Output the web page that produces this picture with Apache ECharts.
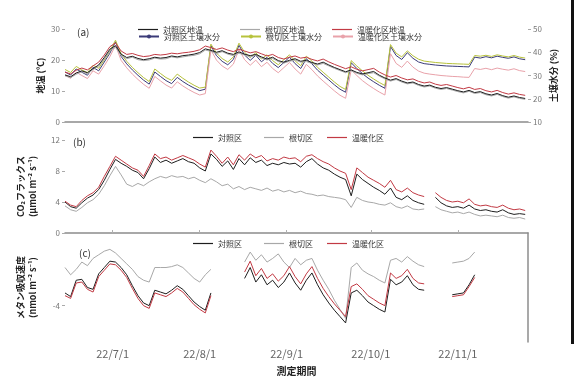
<!DOCTYPE html>
<html>
<head>
<meta charset="utf-8">
<script src="https://cdn.jsdelivr.net/npm/echarts@6/dist/echarts.min.js"></script>
<style>
  html, body { margin: 0; padding: 0; background: #fff; }
  #chart { width: 582px; height: 378px; }
</style>
</head>
<body>
<div id="chart"></div>
<script>
// Sampling dates: every 2 days from 2022-06-14 to 2022-11-25 (83 points)
const dates = [];
for (let i = 0; i < 83; i++) {
  const d = new Date(Date.UTC(2022, 5, 14 + 2 * i));
  dates.push(d.toISOString().slice(0, 10));
}

// (a) soil temperature, °C  (rows: Jun / Jul / Aug / Sep / Oct / Nov)
const tempControl = [
  15.2,14.6,15.8,16.5,15.9,17.2,18.4,20.8,23.5,
  24.6,21.9,20.8,21.2,20.5,20.1,20.4,20.9,20.6,20.8,21.3,21.0,21.4,21.6,21.9,
  22.4,23.6,23.1,22.5,23.0,22.2,21.8,22.6,21.9,21.4,21.8,21.0,20.3,20.9,19.8,19.3,
  19.9,20.4,19.6,19.9,19.2,18.7,19.3,18.4,17.6,16.9,16.2,16.8,16.0,15.5,15.9,
  16.3,15.1,14.2,13.5,14.0,13.2,12.6,12.9,12.1,11.6,11.9,11.2,10.8,11.1,10.6,
  10.1,9.7,10.2,9.5,9.8,9.1,8.7,9.2,8.5,8.0,8.4,7.9,7.6
];
const tempRootCut = [
  14.9,14.3,15.4,16.2,15.5,16.9,18.0,20.3,23.0,
  24.1,21.5,20.4,20.9,20.1,19.8,20.0,20.6,20.3,20.4,21.0,20.7,21.0,21.3,21.5,
  22.0,23.2,22.8,22.1,22.7,21.9,21.4,22.2,21.6,21.0,21.5,20.7,20.0,20.5,19.5,19.0,
  19.6,20.0,19.3,19.5,18.9,18.4,18.9,18.1,17.3,16.6,15.9,16.5,15.7,15.2,15.6,
  15.9,14.8,13.9,13.2,13.7,12.9,12.3,12.6,11.8,11.3,11.6,10.9,10.5,10.8,10.3,
  9.8,9.4,9.9,9.2,9.5,8.8,8.4,8.9,8.2,7.7,8.1,7.6,7.3
];
const tempWarming = [
  16.1,15.5,16.7,17.4,16.8,18.1,19.3,21.6,24.3,
  25.5,22.9,21.8,22.1,21.5,21.1,21.3,21.8,21.6,21.8,22.2,22.0,22.3,22.5,22.8,
  23.3,24.5,24.0,23.4,23.9,23.2,22.7,23.5,22.9,22.3,22.7,22.0,21.3,21.8,20.8,20.3,
  20.9,21.3,20.6,20.9,20.2,19.7,20.3,19.4,18.6,17.9,17.2,17.8,17.0,16.5,16.9,
  17.3,16.1,15.2,14.5,15.0,14.2,13.6,13.9,13.1,12.6,12.9,12.2,11.8,12.1,11.6,
  11.1,10.7,11.2,10.5,10.8,10.1,9.7,10.2,9.5,9.0,9.4,8.9,8.6
];

// (a) soil moisture, %
const moistControl = [
  31.5,30.2,32.8,31.4,30.1,33.5,32.0,35.8,39.6,
  44.5,38.2,35.0,32.4,30.1,28.0,26.3,31.5,29.6,27.8,26.5,29.2,27.4,25.9,24.6,
  23.5,24.1,42.8,38.5,36.1,34.6,36.9,43.0,38.8,36.5,38.7,35.9,37.8,35.2,33.4,35.6,
  37.9,35.1,33.0,37.2,35.0,32.3,30.2,28.1,26.0,24.1,22.8,35.5,33.0,30.8,28.9,
  27.3,25.8,24.5,42.5,38.6,36.9,39.8,37.4,35.8,35.1,34.8,34.5,34.3,34.1,34.0,
  33.9,33.8,33.7,37.9,37.5,38.1,37.6,38.3,37.8,37.4,38.0,37.2,36.8
];
const moistRootCut = [
  32.6,31.3,33.9,32.4,31.2,34.4,33.1,36.7,40.5,
  45.2,39.3,36.1,33.5,31.2,29.1,27.4,32.8,30.9,29.1,27.9,30.6,28.8,27.2,25.8,
  24.6,25.0,43.5,39.6,37.3,35.8,38.0,43.9,40.0,37.7,39.8,37.1,38.9,36.4,34.6,36.8,
  38.9,36.3,34.2,38.3,36.2,33.5,31.4,29.3,27.2,25.3,24.0,36.4,34.1,32.0,30.1,
  28.5,27.0,25.7,43.3,39.6,38.0,40.6,38.5,37.0,36.2,35.9,35.6,35.4,35.2,35.1,
  35.0,34.9,34.8,38.6,38.3,38.7,38.2,38.9,38.4,38.0,38.6,37.9,37.5
];
const moistWarming = [
  30.1,28.8,31.4,30.0,28.7,32.0,30.6,34.2,38.1,
  43.0,36.5,33.3,30.6,28.3,26.2,24.5,29.6,27.7,25.9,24.6,27.3,25.5,24.0,22.7,
  21.6,22.2,41.0,36.6,34.1,32.6,34.9,41.2,36.8,34.4,36.6,33.8,35.7,33.0,31.2,33.4,
  35.6,32.8,30.6,34.8,32.5,29.8,27.6,25.5,23.4,21.5,20.2,32.4,30.0,27.8,26.0,
  24.4,22.9,21.6,39.4,35.2,33.5,36.2,33.6,31.9,31.0,30.6,30.3,30.0,29.8,29.6,
  29.5,29.3,29.2,33.0,32.6,33.1,32.5,33.2,32.7,32.3,32.9,32.1,31.7
];

// (b) CO2 flux, μmol m-2 s-1
const co2Control = [
  4.0,3.4,3.2,3.9,4.5,4.9,5.6,6.8,8.2,
  9.5,9.0,8.6,8.1,7.8,7.0,8.3,9.8,9.1,9.4,9.0,9.3,9.6,9.2,9.0,
  8.4,8.0,10.2,9.5,8.6,9.3,8.2,9.6,8.8,9.7,9.1,9.4,8.7,9.0,8.8,9.1,
  8.9,9.0,8.5,9.2,9.6,8.9,8.4,8.1,7.6,7.2,6.9,4.8,7.6,6.9,6.4,
  5.9,5.5,5.0,5.8,4.6,4.3,4.8,4.2,3.9,3.7,null,4.6,3.9,3.5,3.3,
  3.4,3.2,3.6,3.1,2.9,3.0,2.8,2.7,3.0,2.6,2.4,2.5,2.4
];
const co2RootCut = [
  3.5,3.0,2.8,3.3,3.9,4.3,5.0,6.1,7.4,
  8.6,7.5,6.3,6.0,6.4,6.1,6.6,7.0,7.3,7.1,7.4,7.2,7.3,7.0,7.2,
  6.8,6.5,7.0,6.6,6.1,6.3,5.7,6.0,5.6,5.9,5.7,5.5,5.8,5.4,5.6,5.3,
  5.5,5.2,5.4,5.1,5.0,4.8,4.9,4.7,4.6,4.5,4.3,3.3,4.6,4.2,4.0,
  3.9,3.7,3.6,3.9,3.4,3.2,3.5,3.1,3.0,3.1,null,3.4,3.0,2.8,2.6,
  2.7,2.5,2.7,2.4,2.2,2.3,2.2,2.1,2.3,2.0,1.9,2.0,1.8
];
const co2Warming = [
  4.1,3.6,3.4,4.2,4.8,5.2,5.9,7.3,8.6,
  9.9,9.4,8.9,8.4,8.1,7.3,8.7,10.2,9.6,9.8,9.4,9.7,10.0,9.7,9.4,
  8.9,8.5,10.7,9.9,9.0,9.8,8.8,10.1,9.4,10.2,9.7,10.0,9.3,9.6,9.4,9.8,
  9.6,9.7,9.2,9.9,10.1,9.6,9.2,8.9,8.4,8.0,7.7,5.6,8.4,7.8,7.2,
  6.8,6.4,5.9,6.8,5.6,5.3,5.8,5.2,4.9,4.7,null,5.2,4.6,4.2,4.0,
  4.1,3.9,4.4,3.7,3.5,3.6,3.4,3.3,3.6,3.2,3.0,3.1,2.9
];

// (c) methane uptake, nmol m-2 s-1
const ch4Control = [
  -3.3,-3.5,-2.6,-2.55,-3.0,-3.1,-2.25,-1.9,-1.55,
  -1.6,-1.9,-2.3,-2.9,-3.45,-3.85,-4.0,-3.15,-3.25,-3.35,-3.15,-2.9,-3.1,-3.45,-3.8,
  -4.05,-4.25,-3.3,null,null,null,null,null,-2.5,-1.9,-2.7,-2.3,-2.85,-2.6,-3.0,-2.7,
  -2.2,-2.75,-3.15,-2.6,-2.2,-2.85,-3.4,-3.85,-4.25,-4.6,-4.95,-3.3,-3.15,-3.45,-3.8,
  -4.0,-4.2,-4.35,-2.55,-2.85,-2.7,-2.35,-2.85,-3.1,-3.15,null,null,null,null,-3.4,
  -3.35,-3.3,-2.85,-2.3,null,null,null,null,null,null,null,null,null
];
const ch4RootCut = [
  -1.9,-2.3,-2.0,-1.6,-1.8,-1.4,-1.2,-1.0,-0.9,
  -1.1,-1.4,-1.7,-2.0,-2.4,-2.6,-2.7,-1.9,-1.9,-1.9,-1.85,-1.75,-1.9,-2.2,-2.5,
  -2.7,-2.3,-2.0,null,null,null,null,null,-1.6,-1.05,-1.5,-1.2,-1.6,-1.4,-1.15,-1.6,
  -1.9,-1.4,-1.75,-1.5,-1.4,-2.05,-2.6,-3.1,-3.7,-4.2,-4.7,-1.9,-1.65,-2.05,-2.25,
  -2.4,-2.6,-2.75,-1.5,-1.4,-1.6,-1.3,-1.55,-1.75,-1.85,null,null,null,null,-1.65,
  -1.6,-1.55,-1.4,-1.05,null,null,null,null,null,null,null,null,null
];
const ch4Warming = [
  -3.45,-3.6,-2.75,-2.7,-3.1,-3.25,-2.4,-2.05,-1.7,
  -1.75,-2.05,-2.45,-3.05,-3.6,-4.0,-4.15,-3.3,-3.4,-3.5,-3.3,-3.05,-3.25,-3.6,-3.95,
  -4.2,-4.4,-3.45,null,null,null,null,null,-2.15,-1.55,-2.35,-1.95,-2.5,-2.25,-2.65,-2.35,
  -1.85,-2.4,-2.8,-2.25,-1.85,-2.5,-3.05,-3.5,-3.9,-4.25,-4.6,-2.95,-2.8,-3.1,-3.45,
  -3.65,-3.85,-4.0,-2.2,-2.5,-2.35,-2.0,-2.5,-2.75,-2.8,null,null,null,null,-3.5,
  -3.45,-3.4,-2.95,-2.45,null,null,null,null,null,null,null,null,null
];

// Axis tick values
const tempTicks = { min: 0, max: 30, interval: 10 };
const moistTicks = { min: 10, max: 50, interval: 10 };
const co2Ticks = { min: 0, max: 12, interval: 4 };
const ch4Ticks = { min: -6, max: 0, interval: 2 };
const ch4Labelled = [-4];

const FONT = '"Noto Sans CJK JP", "Noto Sans", sans-serif';
const pairs = vals => dates.map((d, i) => [d, vals[i] == null ? '-' : vals[i]]);

const C = {
  black: '#1e1e1e', grey: '#a8a8a8', red: '#c23a44',
  navy: '#3b3b78', olive: '#b7c23c', pink: '#e9a2aa'
};

function xAxis(gridIndex, withLabels) {
  return {
    type: 'time', gridIndex,
    min: '2022-06-14', max: '2022-11-26', splitNumber: 5,
    axisLine: { show: !withLabels, lineStyle: { color: '#8c8c8c', width: 1.5 } },
    axisTick: { show: withLabels, inside: true, length: 3, lineStyle: { color: '#b0b0b0' } },
    axisLabel: {
      show: withLabels, color: '#666', fontSize: 11, fontFamily: FONT, margin: 6,
      showMinLabel: false, showMaxLabel: false,
      formatter: v => {
        const d = new Date(v);
        return (d.getFullYear() % 100) + '/' + (d.getMonth() + 1) + '/' + d.getDate();
      }
    },
    splitLine: { show: false },
    name: withLabels ? '測定期間' : '',
    nameLocation: 'middle', nameGap: 24,
    nameTextStyle: { fontSize: 10, fontWeight: 'bold', color: '#222', fontFamily: FONT }
  };
}

function yAxis(gridIndex, ticks, extra) {
  return Object.assign({
    type: 'value', gridIndex,
    min: ticks.min, max: ticks.max, interval: ticks.interval,
    axisLine: { show: false },
    axisTick: { show: true, length: 3, lineStyle: { color: '#aaa' } },
    axisLabel: { color: '#777', fontSize: 8, fontFamily: FONT, margin: 5 },
    splitLine: { show: false },
    nameLocation: 'middle',
    nameMoveOverlap: false,
    nameTextStyle: {
      fontSize: 9, fontWeight: 'bold', color: '#222', fontFamily: FONT, lineHeight: 12,
      align: 'center', verticalAlign: 'middle'
    }
  }, extra);
}

function line(name, vals, color, xi, yi, marker) {
  return {
    type: 'line', name, data: pairs(vals), xAxisIndex: xi, yAxisIndex: yi,
    symbol: marker ? 'circle' : 'none', symbolSize: 3, showSymbol: false,
    connectNulls: false,
    lineStyle: { color, width: 1 }, itemStyle: { color },
    emphasis: { disabled: true }
  };
}

// One legend entry; plain entries get a flat line key, marker entries a line with a dot
function legendEntry(name, left, top, marker) {
  const base = {
    data: [name], left, top, padding: 0,
    itemWidth: 20,
    textStyle: { fontSize: 8, color: '#333', fontFamily: FONT },
    selectedMode: false
  };
  if (marker) {
    base.itemHeight = 5;
  } else {
    base.itemHeight = 1.2;
    base.icon = 'rect';
    base.itemStyle = { borderWidth: 0 };
  }
  return base;
}

const option = {
  animation: false,
  backgroundColor: '#fff',
  textStyle: { fontFamily: FONT },
  grid: [
    { left: 65, right: 54, top: 29, height: 93 },
    { left: 65, right: 54, top: 140, height: 93 },
    { left: 65, right: 54, top: 233, height: 109 }
  ],
  xAxis: [xAxis(0, false), xAxis(1, false), xAxis(2, true)],
  yAxis: [
    yAxis(0, tempTicks, { name: '地温 (℃)', nameGap: 24 }),
    yAxis(0, moistTicks, { position: 'right', name: '土壌水分 (%)', nameGap: 26, nameRotate: 90 }),
    yAxis(1, co2Ticks, { name: 'CO₂フラックス\n(μmol m⁻² s⁻¹)', nameGap: 38 }),
    yAxis(2, ch4Ticks, {
      name: 'メタン吸収速度\n(nmol m⁻² s⁻¹)', nameGap: 38,
      axisTick: { show: true, length: 3, lineStyle: { color: '#aaa' },
        customValues: ch4Labelled },
      axisLabel: { color: '#777', fontSize: 8, fontFamily: FONT, margin: 5,
        customValues: ch4Labelled }
    }),
    { type: 'value', gridIndex: 2, position: 'right', min: ch4Ticks.min, max: ch4Ticks.max,
      axisLine: { show: true, lineStyle: { color: '#8c8c8c', width: 1.5 } },
      axisTick: { show: false }, axisLabel: { show: false }, splitLine: { show: false } }
  ],
  legend: [
    legendEntry('対照区地温', 138, 25.5, false),
    legendEntry('根切区地温', 240, 25.5, false),
    legendEntry('温暖化区地温', 332, 25.5, false),
    legendEntry('対照区土壌水分', 138, 32.5, true),
    legendEntry('根切区土壌水分', 240, 32.5, true),
    legendEntry('温暖化区土壌水分', 332, 32.5, true),
    legendEntry('対照区', 193, 133.5, false),
    legendEntry('根切区', 264, 133.5, false),
    legendEntry('温暖化区', 327, 133.5, false),
    legendEntry('対照区', 193, 239.5, false),
    legendEntry('根切区', 264, 239.5, false),
    legendEntry('温暖化区', 327, 239.5, false)
  ],
  series: [
    line('対照区土壌水分', moistControl, C.navy, 0, 1, true),
    line('根切区土壌水分', moistRootCut, C.olive, 0, 1, true),
    line('温暖化区土壌水分', moistWarming, C.pink, 0, 1, true),
    line('根切区地温', tempRootCut, C.grey, 0, 0, false),
    line('対照区地温', tempControl, C.black, 0, 0, false),
    line('温暖化区地温', tempWarming, C.red, 0, 0, false),

    line('根切区', co2RootCut, C.grey, 1, 2, false),
    line('対照区', co2Control, C.black, 1, 2, false),
    line('温暖化区', co2Warming, C.red, 1, 2, false),

    line('根切区', ch4RootCut, C.grey, 2, 3, false),
    line('対照区', ch4Control, C.black, 2, 3, false),
    line('温暖化区', ch4Warming, C.red, 2, 3, false)
  ],
  graphic: [
    { type: 'text', left: 77, top: 27, style: { text: '(a)', fontSize: 10, fill: '#333', fontFamily: FONT } },
    { type: 'text', left: 73, top: 137, style: { text: '(b)', fontSize: 10, fill: '#333', fontFamily: FONT } },
    { type: 'text', left: 79, top: 248, style: { text: '(c)', fontSize: 10, fill: '#333', fontFamily: FONT } },
    { type: 'rect', shape: { x: 571, y: 0, width: 3, height: 344 }, style: { fill: '#111' } }
  ]
};

const chart = echarts.init(document.getElementById('chart'), null, { renderer: 'canvas' });
chart.setOption(option);
</script>
</body>
</html>
